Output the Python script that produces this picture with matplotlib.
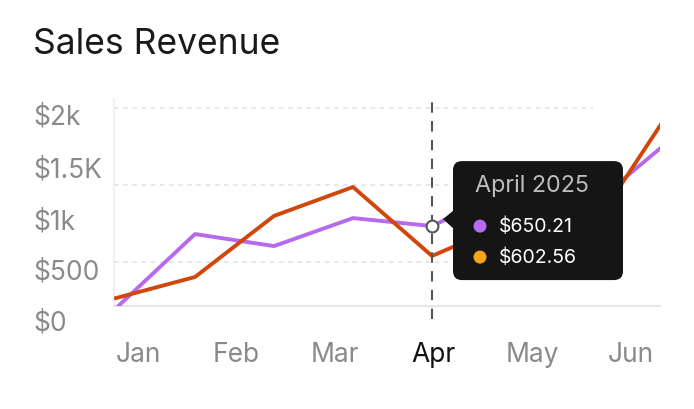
import numpy as np
import matplotlib
matplotlib.use("Agg")
import matplotlib.pyplot as plt
import matplotlib.patches as patches
import matplotlib.transforms as mtransforms

plt.rcParams['font.family'] = ['Inter', 'DejaVu Sans']

# data
months = ['Jan', 'Feb', 'Mar', 'Apr', 'May', 'Jun']
month_pos = [0.29, 1.52, 2.77, 4.02, 5.27, 6.52]
points = np.arange(8)
series_a = [200, 682, 604, 786, 734, 981, 858, 1287]   # purple
series_b = [266, 403, 800, 988, 540, 760, 695, 1475]   # orange
grid_vals = [500, 1000, 1500]
ytick_labels = ['$0', '$500', '$1k', '$1.5K', '$2k']
ytick_pos = [110, 442, 767, 1105, 1443]
active = 4
tip_title = 'April 2025'
tip_values = ['$650.21', '$602.56']

purple = '#b66af0'
orange = '#d1470b'
dot_colors = ['#b66af0', '#f7a21b']
grey_text = '#8a8a8a'

fig = plt.figure(figsize=(6.94, 4.10), dpi=100)
ax = fig.add_axes([0.1643, 0.2512, 0.7867, 0.5049])
ax.set_xlim(-0.025, 6.886)
ax.set_ylim(214.5, 1560)

for s in ['top', 'right']:
    ax.spines[s].set_visible(False)
ax.spines['left'].set_color('#eeeeee')
ax.spines['left'].set_linewidth(1.2)
ax.spines['bottom'].set_color('#e6e6e6')
ax.spines['bottom'].set_linewidth(1.6)

ax.hlines(grid_vals, -0.025, 6.04, colors='#e2e2e2', linewidth=1.1,
          linestyles=(0, (3, 3)), zorder=1)

ax.plot(points, series_a, color=purple, linewidth=2.8, zorder=3)
ax.plot(points, series_b, color=orange, linewidth=2.8, zorder=3)

ax.axvline(active, ymin=-0.063, ymax=0.985, color='#555555', linewidth=1.5,
           linestyle=(0, (5, 4)), clip_on=False, zorder=4)
ax.plot(active, series_a[active], 'o', ms=8.5, mfc='white', mec='#555555',
        mew=1.5, zorder=6)

# ticks
ax.set_yticks([])
ax.set_xticks(month_pos, months)
ax.tick_params(axis='x', length=0, pad=25, labelsize=19, labelcolor=grey_text)
ax.get_xticklabels()[months.index('Apr')].set_color('#111111')

ytrans = mtransforms.blended_transform_factory(ax.transAxes, ax.transData)
for lab, v in zip(ytick_labels, ytick_pos):
    ax.text(-0.148, v, lab, transform=ytrans, ha='left', va='center',
            fontsize=19, color=grey_text, clip_on=False)

fig.text(33 / 694, 1 - 45 / 410, 'Sales Revenue', fontsize=25.5,
         color='#1a1a1a', ha='left', va='center')

# tooltip, anchored at the active point (display pixels)
fig.canvas.draw()
px, py = ax.transData.transform((active, series_a[active]))
ident = mtransforms.IdentityTransform()
box = patches.FancyBboxPatch((px + 21, py - 54), 170, 119,
                             boxstyle='round,pad=0,rounding_size=9',
                             facecolor='#151515', edgecolor='none',
                             transform=ident, zorder=10)
fig.patches.append(box)
tri = patches.Polygon([(px + 22, py + 16), (px + 11, py + 7), (px + 22, py - 3)],
                      closed=True, facecolor='#151515', edgecolor='none',
                      transform=ident, zorder=10)
fig.patches.append(tri)
fig.text(px + 43, py + 41, tip_title, transform=ident, fontsize=16.8,
         color='#bdbdbd', ha='left', va='center', zorder=11)
for k, (val, c) in enumerate(zip(tip_values, dot_colors)):
    yy = py - 31 * k
    fig.patches.append(patches.Circle((px + 48, yy), 6.5, facecolor=c,
                                      edgecolor='none', transform=ident, zorder=11))
    fig.text(px + 67, yy, val, transform=ident, fontsize=14, color='white',
             ha='left', va='center', zorder=11)

fig.savefig('out.png', dpi=100)
